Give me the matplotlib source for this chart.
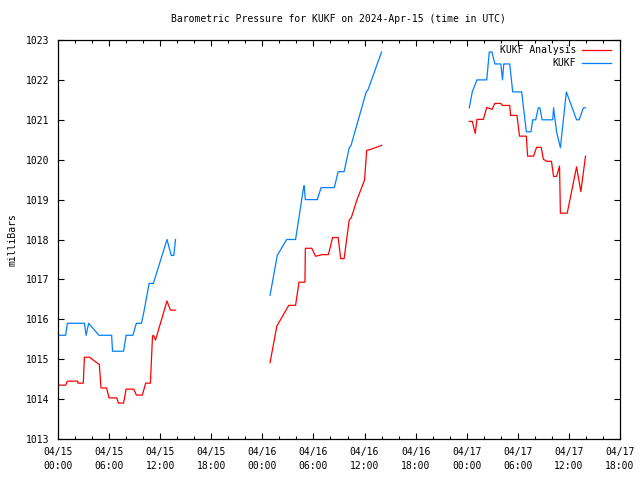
import numpy as np
import matplotlib
matplotlib.use("Agg")
import matplotlib.pyplot as plt
from matplotlib.ticker import MultipleLocator

# hours since 2024-04-15 00:00 UTC; NaN separates the data gaps
obs_hours = [0, 0.9, 1.1, 3.1, 3.3, 3.6, 4.8, 6.3, 6.4, 7.7, 8.0, 8.8, 9.2, 9.8, 10.1, 10.7,
             11.2, 12.8, 13.3, 13.6, 13.8, np.nan,
             24.9, 25.75, 26.85, 27.9, 28.8, 28.9, 29.05, 30.45, 30.9, 32.45, 32.9, 33.6,
             34.2, 34.4, 36.2, 36.4, 38.0, np.nan,
             48.3, 48.65, 49.2, 50.35, 50.65, 50.97, 51.3, 52.0, 52.2, 52.35, 53.05, 53.4,
             54.45, 55.0, 55.55, 55.75, 56.1, 56.4, 56.6, 56.85, 58.1, 58.2, 58.55, 59.0,
             59.7, 60.9, 61.2, 61.7, 61.95]
obs_mb = [1015.6, 1015.6, 1015.9, 1015.9, 1015.6, 1015.9, 1015.6, 1015.6, 1015.2, 1015.2,
          1015.6, 1015.6, 1015.9, 1015.9, 1016.2, 1016.9, 1016.9, 1018.0, 1017.6, 1017.6,
          1018.0, np.nan,
          1016.6, 1017.6, 1018.0, 1018.0, 1019.25, 1019.35, 1019.0, 1019.0, 1019.3, 1019.3,
          1019.7, 1019.7, 1020.3, 1020.35, 1021.7, 1021.75, 1022.7, np.nan,
          1021.3, 1021.7, 1022.0, 1022.0, 1022.7, 1022.7, 1022.4, 1022.4, 1022.0, 1022.4,
          1022.4, 1021.7, 1021.7, 1020.7, 1020.7, 1021.0, 1021.0, 1021.3, 1021.3, 1021.0,
          1021.0, 1021.3, 1020.7, 1020.3, 1021.7, 1021.0, 1021.0, 1021.3, 1021.3]

ana_hours = [0, 0.9, 1.1, 2.3, 2.35, 2.97, 3.1, 3.7, 4.5, 4.85, 5.05, 5.7, 6.0, 6.9, 7.1, 7.7,
             8.0, 8.9, 9.2, 9.9, 10.3, 10.85, 11.1, 11.2, 11.45, 12.8, 13.2, 13.8, np.nan,
             24.9, 25.7, 27.1, 27.9, 28.3, 29.0, 29.05, 29.8, 30.25, 31.0, 31.75, 32.25, 32.9,
             33.2, 33.6, 34.2, 34.45, 35.1, 36.0, 36.25, 37.0, 38.0, np.nan,
             48.3, 48.65, 49.0, 49.2, 49.95, 50.35, 50.97, 51.3, 52.0, 52.2, 53.05, 53.15,
             53.9, 54.2, 55.0, 55.15, 55.85, 56.2, 56.75, 57.0, 57.4, 57.95, 58.2, 58.55,
             58.9, 59.0, 59.8, 60.9, 61.4, 61.95]
ana_mb = [1014.35, 1014.35, 1014.45, 1014.45, 1014.4, 1014.4, 1015.05, 1015.05, 1014.92,
          1014.87, 1014.28, 1014.28, 1014.03, 1014.03, 1013.9, 1013.9, 1014.25, 1014.25,
          1014.1, 1014.1, 1014.4, 1014.4, 1015.58, 1015.6, 1015.48, 1016.46, 1016.23,
          1016.23, np.nan,
          1014.91, 1015.83, 1016.35, 1016.35, 1016.93, 1016.93, 1017.78, 1017.78, 1017.58,
          1017.62, 1017.62, 1018.05, 1018.05, 1017.52, 1017.52, 1018.49, 1018.55, 1018.99,
          1019.49, 1020.23, 1020.28, 1020.36, np.nan,
          1020.96, 1020.96, 1020.66, 1021.01, 1021.01, 1021.31, 1021.26, 1021.41, 1021.41,
          1021.36, 1021.36, 1021.11, 1021.11, 1020.59, 1020.59, 1020.09, 1020.09, 1020.31,
          1020.31, 1020.01, 1019.96, 1019.96, 1019.58, 1019.58, 1019.84, 1018.66, 1018.66,
          1019.82, 1019.2, 1020.09]

tick_hours = list(range(0, 67, 6))
tick_labels = ["04/15\n00:00", "04/15\n06:00", "04/15\n12:00", "04/15\n18:00",
               "04/16\n00:00", "04/16\n06:00", "04/16\n12:00", "04/16\n18:00",
               "04/17\n00:00", "04/17\n06:00", "04/17\n12:00", "04/17\n18:00"]

FONT = "DejaVu Sans Mono"
FS = 7.0

fig = plt.figure(figsize=(6.4, 4.8), dpi=100)
ax = fig.add_axes([58 / 640, 1 - 439 / 480, 562 / 640, 399 / 480])

ax.plot(ana_hours, ana_mb, color="#ff0000", lw=0.9, label="KUKF Analysis")
ax.plot(obs_hours, obs_mb, color="#0080ff", lw=0.9, label="KUKF")

ax.set_xlim(0, 66)
ax.set_ylim(1013, 1023)
ax.set_xticks(tick_hours)
ax.set_xticklabels(tick_labels, family=FONT, fontsize=FS, linespacing=1.5)
ax.xaxis.set_minor_locator(MultipleLocator(2))
ax.set_yticks(range(1013, 1024))
ax.set_yticklabels([str(v) for v in range(1013, 1024)], family=FONT, fontsize=FS)
ax.tick_params(which="both", direction="in", top=True, right=True, width=0.8)
ax.tick_params(which="major", length=4, pad=6)
ax.tick_params(which="minor", length=2.2)
for s in ax.spines.values():
    s.set_linewidth(0.9)

ax.set_ylabel("milliBars", family=FONT, fontsize=FS, labelpad=6.5)
fig.text(338 / 640, 1 - 19 / 480, "Barometric Pressure for KUKF on 2024-Apr-15 (time in UTC)",
         family=FONT, fontsize=FS, ha="center", va="center")

leg = ax.legend(loc="upper right", frameon=False, prop={"family": FONT, "size": FS},
                markerfirst=False, handlelength=3.0, handletextpad=0.6,
                bbox_to_anchor=(611 / 640, 1 - 45 / 480), bbox_transform=fig.transFigure,
                borderaxespad=0, labelspacing=0.3, borderpad=0)
for t in leg.get_texts():
    t.set_ha("right")

fig.savefig("out.png", dpi=100)
